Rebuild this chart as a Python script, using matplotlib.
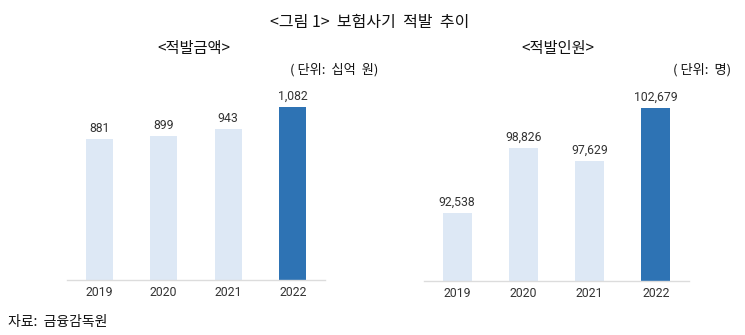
import matplotlib
matplotlib.use("Agg")
import matplotlib.pyplot as plt

plt.rcParams['font.family'] = ['Roboto', 'Noto Sans CJK KR', 'DejaVu Sans']

years = ["2019", "2020", "2021", "2022"]
amount = [881, 899, 943, 1082]            # 적발금액 (십억 원)
people = [92538, 98826, 97629, 102679]    # 적발인원 (명)

light = "#dde8f5"
dark = "#2e73b4"
colors = [light, light, light, dark]
kr = ['Noto Sans CJK KR', 'DejaVu Sans']

W, H = 745, 335
fig = plt.figure(figsize=(W / 100, H / 100), dpi=100)


def add_panel(left, right, bottom, top, values, ylim, width):
    ax = fig.add_axes([left / W, 1 - bottom / H, (right - left) / W, (bottom - top) / H])
    x = range(len(years))
    bars = ax.bar(x, values, width=width, color=colors, zorder=2)
    ax.set_xlim(-0.5, len(years) - 0.5)
    ax.set_ylim(*ylim)
    ax.set_xticks(list(x))
    ax.set_xticklabels(years, fontsize=8.8, color="#333333")
    ax.tick_params(axis="x", length=0, pad=4)
    ax.set_yticks([])
    for side in ("top", "left", "right"):
        ax.spines[side].set_visible(False)
    ax.spines["bottom"].set_color("#dcdcdc")
    ax.spines["bottom"].set_linewidth(1)
    for b, v in zip(bars, values):
        ax.annotate(f"{v:,}", (b.get_x() + b.get_width() / 2, v),
                    xytext=(0, 3), textcoords="offset points",
                    ha="center", va="bottom", fontsize=8.8, color="#333333")
    return ax


add_panel(67, 325, 280, 80, amount, (0, 1250), 0.42)
add_panel(424, 689, 281, 80, people, (86000, 105400), 0.44)

fig.text(370 / W, 1 - 22 / H, "<그림 1>  보험사기  적발  추이", family=kr,
         fontsize=11.5, ha="center", va="center", color="#111111", weight="light")
fig.text(194 / W, 1 - 48 / H, "<적발금액>", family=kr,
         fontsize=11, ha="center", va="center", color="#111111", weight="light")
fig.text(558 / W, 1 - 48 / H, "<적발인원>", family=kr,
         fontsize=11, ha="center", va="center", color="#111111", weight="light")
fig.text(334 / W, 1 - 70 / H, "( 단위:  십억  원)", family=kr,
         fontsize=9.5, ha="center", va="center", color="#111111", weight="light")
fig.text(702 / W, 1 - 70 / H, "( 단위:  명)", family=kr,
         fontsize=9.5, ha="center", va="center", color="#111111", weight="light")
fig.text(8 / W, 1 - 322 / H, "자료:  금융감독원", family=kr,
         fontsize=10, ha="left", va="center", color="#111111", weight="light")

fig.savefig("out.png", dpi=100)
